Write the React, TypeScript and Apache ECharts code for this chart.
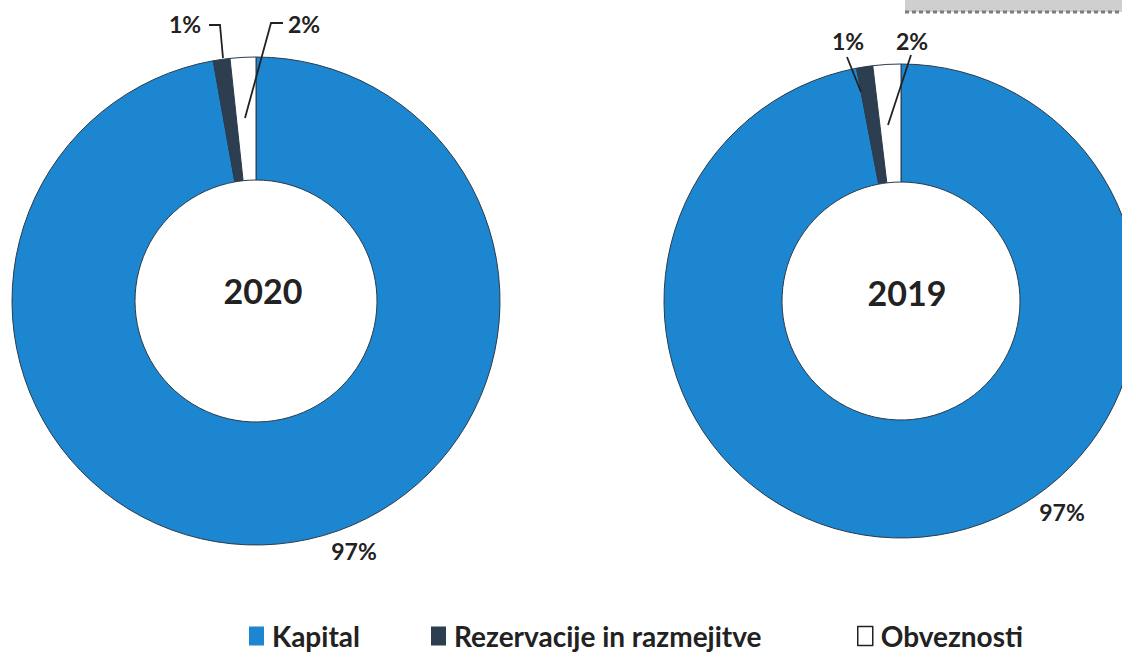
import React, { useEffect, useRef } from "react";
import * as echarts from "echarts";

const categories = ["Kapital", "Rezervacije in razmejitve", "Obveznosti"];
const years = ["2020", "2019"];
const values2020 = [97.2, 1.1, 1.7];
const values2019 = [97.0, 1.1, 1.9];

const colors = ["#1c87d0", "#2c3e50", "#ffffff"];
const FONT = "Lato, 'Open Sans', sans-serif";

// label positions per chart / per slice (layout, not data)
const labelLayouts = [
  [
    { x: 354, y: 551 },
    { x: 185, y: 24 },
    { x: 304, y: 24 },
  ],
  [
    { x: 1062, y: 512 },
    { x: 848, y: 41 },
    { x: 912, y: 41 },
  ],
];

// leader lines (annotation layout)
const leaderLines = [
  [[209, 25], [220, 25], [223, 58]],
  [[283, 23], [271, 23], [245, 118]],
  [[847, 57], [861, 92]],
  [[911, 55], [888, 125]],
];

const pieCenters = [
  { c: [256, 301], r: [121, 244], t: [263, 290] },
  { c: [901, 301], r: [119, 237], t: [907, 292] },
];

function buildSeries(idx: number, values: number[]) {
  return {
    type: "pie",
    name: years[idx],
    center: pieCenters[idx].c,
    radius: pieCenters[idx].r,
    startAngle: 90,
    clockwise: true,
    avoidLabelOverlap: false,
    itemStyle: { borderColor: "#2a3b4c", borderWidth: 1 },
    emphasis: { disabled: true },
    label: {
      show: true,
      position: "outside",
      formatter: (p: any) => Math.round(p.percent) + "%",
      fontFamily: FONT,
      fontWeight: "bold",
      fontSize: 23,
      color: "#222222",
    },
    labelLine: { show: false },
    labelLayout: (params: any) => {
      const l = labelLayouts[idx][params.dataIndex];
      return { x: l.x, y: l.y, align: "center", verticalAlign: "middle" };
    },
    data: categories.map((name, i) => ({
      name,
      value: values[i],
      itemStyle: { color: colors[i] },
    })),
  };
}

const legendLefts = [249, 431, 857];

export default function App() {
  const ref = useRef<HTMLDivElement>(null);
  useEffect(() => {
    if (!ref.current) return;
    const chart = echarts.init(ref.current, null, { renderer: "svg" });
    chart.setOption({
      animation: false,
      backgroundColor: "#ffffff",
      legend: categories.map((name, i) => ({
        data: [name],
        left: legendLefts[i],
        top: 620,
        padding: 0,
        icon: "rect",
        itemWidth: 15,
        itemHeight: 19,
        itemGap: 0,
        selectedMode: false,
        itemStyle: i === 2 ? { borderColor: "#222222", borderWidth: 1.5 } : { borderWidth: 0 },
        textStyle: {
          fontFamily: FONT,
          fontWeight: "bold",
          fontSize: 28,
          lineHeight: 32,
          color: "#222222",
          padding: [0, 0, 0, 3],
        },
      })),
      graphic: [
        {
          type: "rect",
          shape: { x: 905, y: 0, width: 217, height: 12 },
          style: { fill: "#cfcfcf" },
        },
        {
          type: "line",
          shape: { x1: 905, y1: 12, x2: 1122, y2: 12 },
          style: { stroke: "#7d7d7d", lineWidth: 3, lineDash: [4, 3] },
        },
        ...leaderLines.map((pts) => ({
          type: "polyline",
          shape: { points: pts },
          style: { stroke: "#222222", lineWidth: 1.8, fill: null },
          z: 10,
        })),
        ...pieCenters.map((pc, i) => ({
          type: "text",
          style: {
            text: years[i],
            x: pc.t[0],
            y: pc.t[1],
            align: "center",
            verticalAlign: "middle",
            font: `bold 34px ${FONT}`,
            fill: "#222222",
          },
        })),
      ],
      series: [buildSeries(0, values2020), buildSeries(1, values2019)],
    });
    return () => chart.dispose();
  }, []);
  return <div ref={ref} style={{ width: 1122, height: 655, position: "absolute", left: 0, top: 0 }} />;
}
